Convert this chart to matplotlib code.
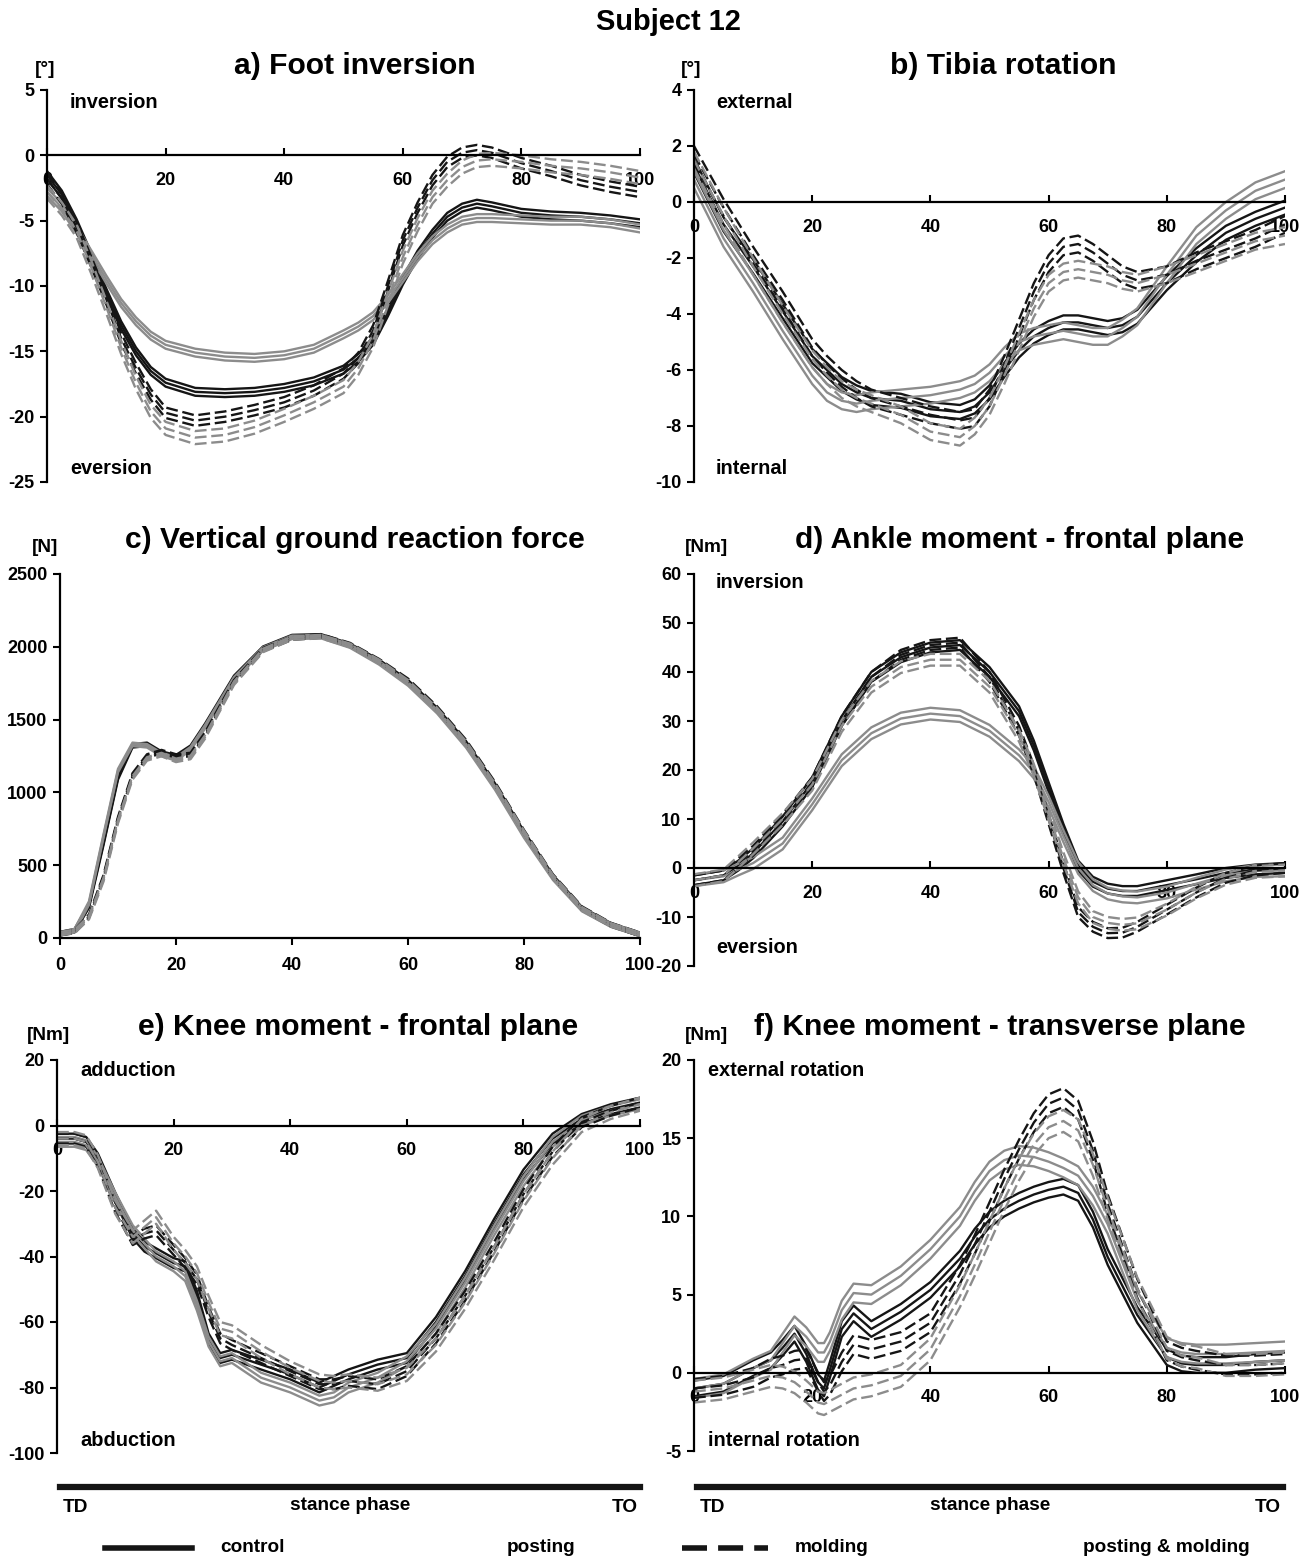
import matplotlib.pyplot as plt
from matplotlib.lines import Line2D
import numpy as np

W, H = 1315, 1561
plt.rcParams['font.family'] = ['Liberation Sans Narrow', 'Liberation Sans', 'DejaVu Sans']
plt.rcParams['font.weight'] = 'bold'
plt.rcParams['axes.unicode_minus'] = False

# ---- data (mean curves per condition) ----
conditions = ['control', 'posting', 'molding', 'posting & molding']

# a) Foot inversion [deg]
x_a = [0, 2.5, 5, 7.5, 10, 12.5, 15, 17.5, 20, 25, 30, 35, 40, 45, 50, 52.5, 55, 57.5, 60, 62.5, 65, 67.5, 70, 72.5, 75, 80, 85, 90, 95, 100]
a_control = [-1.5, -3.0, -5.2, -7.8, -10.5, -13.0, -15.0, -16.5, -17.4, -18.1, -18.2, -18.1, -17.8, -17.3, -16.4, -15.5, -14.2, -12.0, -9.6, -7.6, -6.0, -4.7, -4.0, -3.7, -3.9, -4.4, -4.6, -4.7, -4.9, -5.2]
a_posting = [-2.8, -4.0, -5.7, -7.6, -9.5, -11.3, -12.7, -13.8, -14.5, -15.1, -15.4, -15.5, -15.3, -14.8, -13.7, -13.1, -12.3, -11.0, -9.4, -7.8, -6.5, -5.6, -5.0, -4.8, -4.8, -4.9, -5.0, -5.0, -5.2, -5.6]
a_molding = [-1.8, -3.3, -5.5, -8.2, -11.0, -14.0, -16.3, -18.3, -19.7, -20.3, -20.0, -19.5, -18.9, -18.0, -16.7, -15.5, -13.4, -10.0, -6.5, -4.0, -1.9, -0.5, 0.2, 0.4, 0.2, -0.6, -1.2, -1.9, -2.4, -2.8]
a_postmold = [-2.8, -4.1, -5.8, -8.6, -11.6, -14.7, -17.4, -19.6, -20.9, -21.6, -21.4, -20.8, -19.9, -18.9, -17.7, -16.3, -14.2, -11.0, -7.8, -5.3, -3.2, -1.9, -0.9, -0.4, -0.3, -0.5, -0.8, -1.0, -1.3, -1.7]
a_sd = [0.3, 0.3, 0.4, 0.5]

# b) Tibia rotation [deg]
x_b = [0, 5, 10, 15, 20, 22.5, 25, 27.5, 30, 35, 40, 45, 47.5, 50, 52.5, 55, 57.5, 60, 62.5, 65, 67.5, 70, 72.5, 75, 80, 85, 90, 95, 100]
b_control = [1.3, -0.8, -2.3, -3.9, -5.5, -6.0, -6.5, -6.8, -7.0, -7.1, -7.4, -7.5, -7.3, -6.8, -6.0, -5.3, -4.8, -4.5, -4.3, -4.3, -4.4, -4.5, -4.4, -4.1, -2.9, -1.9, -1.1, -0.6, -0.2]
b_posting = [0.8, -1.3, -2.9, -4.6, -6.2, -6.8, -7.1, -7.2, -7.1, -7.0, -6.9, -6.7, -6.5, -6.1, -5.5, -5.0, -4.8, -4.7, -4.6, -4.7, -4.8, -4.8, -4.5, -4.1, -2.6, -1.2, -0.3, 0.4, 0.8]
b_molding = [1.7, -0.2, -1.9, -3.5, -5.2, -5.8, -6.3, -6.7, -7.0, -7.3, -7.6, -7.8, -7.7, -7.0, -5.8, -4.5, -3.2, -2.2, -1.6, -1.5, -1.8, -2.2, -2.6, -2.8, -2.6, -2.1, -1.7, -1.3, -0.8]
b_postmold = [1.5, -0.5, -2.3, -4.0, -5.6, -6.2, -6.7, -7.0, -7.2, -7.6, -8.2, -8.4, -8.0, -7.3, -6.2, -5.0, -3.8, -2.9, -2.5, -2.4, -2.5, -2.6, -2.8, -2.9, -2.6, -2.2, -1.8, -1.4, -1.2]
b_sd = [0.25, 0.3, 0.3, 0.3]

# c) Vertical ground reaction force [N]
x_c = [0, 2.5, 5, 7.5, 10, 12.5, 15, 17.5, 20, 22.5, 25, 30, 35, 40, 45, 50, 55, 60, 65, 70, 75, 80, 85, 90, 95, 100]
c_control = [30, 50, 220, 650, 1100, 1320, 1330, 1270, 1245, 1310, 1460, 1790, 1990, 2070, 2075, 2010, 1900, 1760, 1570, 1340, 1050, 720, 420, 200, 90, 25]
c_posting = [30, 50, 240, 700, 1150, 1330, 1320, 1260, 1230, 1300, 1450, 1780, 1985, 2065, 2070, 2005, 1890, 1745, 1555, 1320, 1030, 700, 410, 195, 88, 25]
c_molding = [30, 45, 150, 420, 820, 1120, 1250, 1280, 1250, 1260, 1400, 1760, 1980, 2060, 2075, 2015, 1905, 1770, 1580, 1350, 1060, 730, 425, 205, 92, 25]
c_postmold = [30, 45, 140, 400, 800, 1100, 1230, 1260, 1220, 1240, 1380, 1750, 1975, 2060, 2070, 2010, 1900, 1760, 1570, 1340, 1050, 725, 420, 200, 90, 25]
c_sd = [12, 12, 12, 12]

# d) Ankle moment - frontal plane [Nm]
x_d = [0, 5, 7.5, 10, 15, 20, 25, 30, 35, 40, 45, 50, 55, 57.5, 60, 62.5, 65, 67.5, 70, 72.5, 75, 80, 85, 90, 95, 100]
d_control = [-2.5, -1.5, 0.5, 3.0, 9.5, 17.5, 30.0, 39.0, 43.0, 45.0, 45.5, 40.0, 32.0, 25.0, 16.5, 8.0, 0.5, -2.8, -4.2, -4.7, -4.7, -3.5, -2.3, -1.0, -0.3, 0.0]
d_posting = [-2.5, -1.7, -0.3, 1.0, 5.0, 13.0, 22.0, 27.5, 30.5, 31.5, 31.0, 28.0, 23.0, 19.5, 13.5, 6.5, 0.0, -3.5, -5.2, -5.8, -6.0, -5.0, -3.2, -1.5, -0.6, -0.5]
d_molding = [-2.5, -1.5, 1.0, 3.5, 10.0, 17.5, 30.0, 39.0, 43.5, 45.5, 46.0, 39.0, 28.0, 20.0, 10.0, 0.0, -9.0, -12.0, -13.3, -13.2, -12.0, -8.5, -5.0, -2.0, -0.5, 0.0]
d_postmold = [-2.5, -1.5, 1.2, 4.0, 10.0, 17.0, 29.0, 37.0, 41.0, 42.5, 42.5, 37.0, 27.0, 20.0, 11.0, 2.0, -6.0, -10.0, -11.2, -11.6, -11.3, -8.5, -5.0, -2.2, -0.8, -0.5]
d_sd = [1.0, 1.2, 1.0, 1.2]

# e) Knee moment - frontal plane [Nm]
x_e = [0, 3, 5, 7, 10, 13, 15, 17, 20, 22, 24, 26, 28, 30, 32.5, 35, 40, 45, 47.5, 50, 55, 60, 65, 70, 75, 80, 85, 90, 95, 100]
e_control = [-4, -4, -5, -10, -22, -33, -37, -39, -42, -43, -52, -65, -71, -70, -71.5, -73, -76, -80, -78, -76, -73, -71, -60, -46, -30, -15, -4, 2, 5, 7]
e_posting = [-5, -5, -6, -11, -22, -32, -36, -40, -43, -46, -55, -66, -72, -71, -74, -77, -80, -84, -83, -80, -77, -72, -62, -48, -32, -17, -5, 1.5, 4.5, 6.5]
e_molding = [-4, -4, -5, -11, -25, -35, -33, -32, -38, -42, -47, -57, -65, -67, -69, -71, -75, -79, -79, -78, -79, -75, -65, -52, -37, -21, -8, 1, 4.5, 7]
e_postmold = [-4, -4, -5, -11, -25, -34, -31, -28, -36, -40, -45, -54, -62, -63, -66, -69, -74, -78, -78.5, -78, -79, -76, -67, -54, -39, -23, -10, 0, 4, 6.5]
e_sd = [1.5, 1.5, 1.5, 2.0]

# f) Knee moment - transverse plane [Nm]
x_f = [0, 5, 8, 10, 13, 15, 17, 19, 21, 22, 23, 25, 27, 30, 35, 40, 45, 47.5, 50, 52.5, 55, 57.5, 60, 62.5, 65, 67.5, 70, 75, 80, 82.5, 85, 90, 95, 100]
f_control = [-1.0, -0.7, -0.1, 0.3, 0.8, 1.6, 2.5, 1.2, -0.6, -1.0, 0.2, 2.8, 3.8, 2.8, 3.9, 5.3, 7.3, 8.7, 9.8, 10.5, 11.0, 11.4, 11.7, 11.9, 11.5, 9.8, 7.4, 3.7, 1.0, 0.6, 0.5, 0.5, 0.7, 0.8]
f_posting = [-1.0, -0.7, -0.1, 0.3, 0.8, 1.9, 3.0, 2.3, 1.3, 1.3, 2.0, 4.0, 5.1, 5.0, 6.2, 7.9, 10.0, 11.6, 12.9, 13.6, 13.9, 13.8, 13.5, 13.1, 12.6, 11.3, 9.5, 4.6, 1.6, 1.3, 1.2, 1.2, 1.3, 1.4]
f_molding = [-1.0, -0.8, -0.5, -0.3, 0.3, 0.5, 0.8, 0.9, -0.6, -1.2, -0.8, 0.7, 1.8, 1.5, 2.0, 3.2, 6.3, 8.2, 10.3, 12.4, 14.3, 16.0, 17.2, 17.6, 16.8, 14.2, 10.8, 5.4, 1.4, 1.0, 0.8, 0.5, 0.5, 0.6]
f_postmold = [-1.2, -1.0, -0.7, -0.5, -0.2, -0.3, -0.6, -1.2, -1.9, -2.0, -1.8, -1.4, -1.0, -0.8, -0.2, 1.5, 4.9, 6.9, 9.0, 11.1, 13.0, 14.6, 15.7, 16.1, 15.5, 13.3, 10.5, 5.4, 1.6, 1.1, 1.0, 0.5, 0.5, 0.6]
f_sd = [0.5, 0.6, 0.6, 0.7]

panels = [
    dict(title='a) Foot inversion', unit='[°]', x=x_a, ys=[a_control, a_posting, a_molding, a_postmold], sd=a_sd,
         ylim=(-25, 5), yticks=[-25, -20, -15, -10, -5, 0, 5], top='inversion', bottom='eversion',
         box=(47, 640, 90, 482), utxt=(45, 70), ttl=(355, 66), ann=(70, 103, 469)),
    dict(title='b) Tibia rotation', unit='[°]', x=x_b, ys=[b_control, b_posting, b_molding, b_postmold], sd=b_sd,
         ylim=(-10, 4), yticks=[-10, -8, -6, -4, -2, 0, 2, 4], top='external', bottom='internal',
         box=(694, 1285, 90, 482), utxt=(691, 70), ttl=(1003, 66), ann=(716, 103, 469)),
    dict(title='c) Vertical ground reaction force', unit='[N]', x=x_c, ys=[c_control, c_posting, c_molding, c_postmold], sd=c_sd,
         ylim=(0, 2500), yticks=[0, 500, 1000, 1500, 2000, 2500], top=None, bottom=None,
         box=(60, 640, 574, 938), utxt=(45, 548), ttl=(355, 540), ann=None),
    dict(title='d) Ankle moment - frontal plane', unit='[Nm]', x=x_d, ys=[d_control, d_posting, d_molding, d_postmold], sd=d_sd,
         ylim=(-20, 60), yticks=[-20, -10, 0, 10, 20, 30, 40, 50, 60], top='inversion', bottom='eversion',
         box=(694, 1285, 574, 966), utxt=(707, 548), ttl=(1020, 540), ann=(716, 582, 948)),
    dict(title='e) Knee moment - frontal plane', unit='[Nm]', x=x_e, ys=[e_control, e_posting, e_molding, e_postmold], sd=e_sd,
         ylim=(-100, 20), yticks=[-100, -80, -60, -40, -20, 0, 20], top='adduction', bottom='abduction',
         box=(57, 640, 1060, 1453), utxt=(49, 1035), ttl=(358, 1027), ann=(80, 1070, 1441)),
    dict(title='f) Knee moment - transverse plane', unit='[Nm]', x=x_f, ys=[f_control, f_posting, f_molding, f_postmold], sd=f_sd,
         ylim=(-5, 20), yticks=[-5, 0, 5, 10, 15, 20], top='external rotation', bottom='internal rotation',
         box=(694, 1285, 1060, 1451), utxt=(707, 1035), ttl=(1000, 1027), ann=(708, 1070, 1441)),
]

BLACK = '#151515'
GRAY = '#8c8c8c'
styles = [(BLACK, '-'), (GRAY, '-'), (BLACK, (0, (5, 2))), (GRAY, (0, (5, 2)))]

PT = 0.72  # px -> pt at dpi 100

fig = plt.figure(figsize=(W / 100, H / 100), dpi=100)
fig.patch.set_facecolor('white')

for p in panels:
    l, r, t, b = p['box']
    ax = fig.add_axes([l / W, 1 - b / H, (r - l) / W, (b - t) / H])
    x = np.array(p['x'])
    for (col, ls), y, sd in zip(styles, p['ys'], p['sd']):
        y = np.array(y, dtype=float)
        for off in (-sd, 0, sd):
            ax.plot(x, y + off, color=col, ls=ls, lw=1.7, solid_joinstyle='round')
    ax.set_xlim(0, 100)
    ax.set_ylim(*p['ylim'])
    ax.set_yticks(p['yticks'])
    ax.set_xticks([0, 20, 40, 60, 80, 100])
    for s in ('top', 'right'):
        ax.spines[s].set_visible(False)
    ax.spines['left'].set_linewidth(1.6)
    ax.spines['bottom'].set_linewidth(1.6)
    ax.spines['bottom'].set_position(('data', 0))
    ax.tick_params(axis='y', direction='out', length=5, width=1.5, labelsize=18 * PT, pad=4)
    if p['ylim'][0] < 0:
        ax.tick_params(axis='x', direction='in', length=5, width=1.5, labelsize=18 * PT, pad=12)
    else:
        ax.tick_params(axis='x', direction='out', length=5, width=1.5, labelsize=18 * PT, pad=9)
    ax.set_facecolor('none')
    fig.text(p['ttl'][0] / W, 1 - p['ttl'][1] / H, p['title'], fontsize=30 * PT,
             ha='center', va='center', fontweight='bold')
    fig.text(p['utxt'][0] / W, 1 - p['utxt'][1] / H, p['unit'], fontsize=19 * PT,
             ha='center', va='center', fontweight='bold')
    if p['ann'] is not None:
        ax_, ty, by = p['ann']
        fig.text(ax_ / W, 1 - ty / H, p['top'], fontsize=20 * PT, ha='left', va='center', fontweight='bold')
        fig.text(ax_ / W, 1 - by / H, p['bottom'], fontsize=20 * PT, ha='left', va='center', fontweight='bold')

fig.text(668 / W, 1 - 22 / H, 'Subject 12', fontsize=29 * PT, ha='center', va='center', fontweight='bold')

# stance phase bars
for x0, x1 in ((60, 640), (697, 1283)):
    fig.add_artist(Line2D([x0 / W, x1 / W], [1 - 1487 / H] * 2, color=BLACK, lw=4.5))
    fig.text((x0 + 15) / W, 1 - 1508 / H, 'TD', fontsize=19 * PT, ha='center', va='center')
    fig.text((x0 + x1) / 2 / W, 1 - 1505 / H, 'stance phase', fontsize=19 * PT, ha='center', va='center')
    fig.text((x1 - 15) / W, 1 - 1508 / H, 'TO', fontsize=19 * PT, ha='center', va='center')

# legend row
fig.add_artist(Line2D([105 / W, 192 / W], [1 - 1548 / H] * 2, color=BLACK, lw=4))
fig.add_artist(Line2D([682 / W, 768 / W], [1 - 1548 / H] * 2, color=BLACK, lw=4, ls=(0, (4.5, 2))))
legend_pos = [(220, 'control'), (507, 'posting'), (795, 'molding'), (1083, 'posting & molding')]
for lx, name in legend_pos:
    fig.text(lx / W, 1 - 1548 / H, name, fontsize=19 * PT, ha='left', va='center')

fig.savefig('out.png', dpi=100, facecolor='white')
